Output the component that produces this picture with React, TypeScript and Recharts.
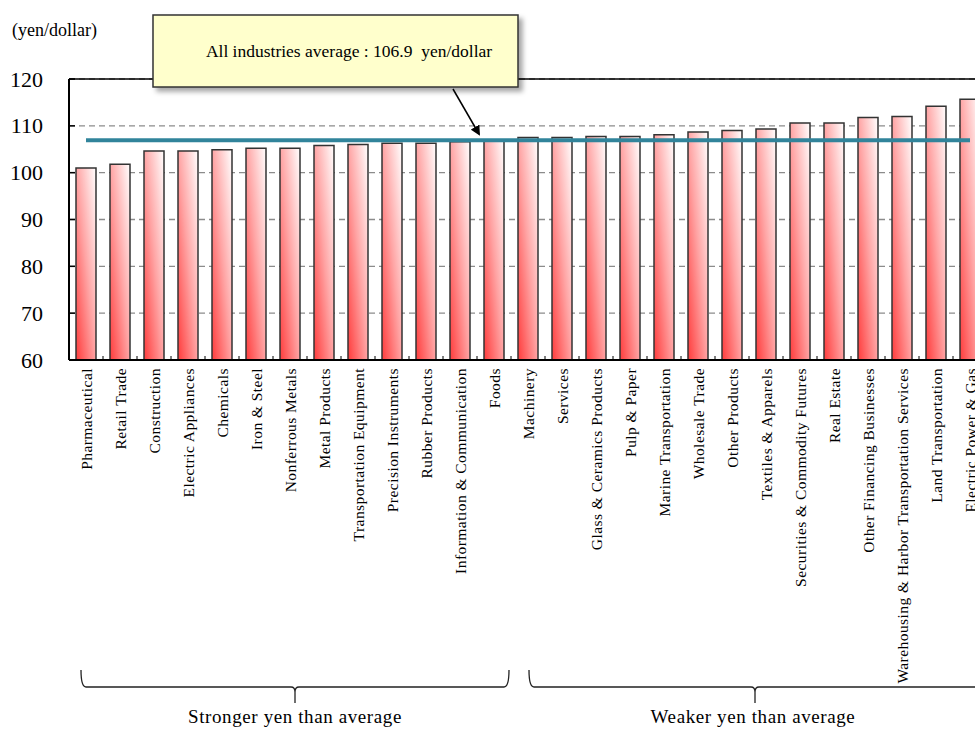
import React from 'react';
import { ComposedChart, Bar, Line, XAxis, YAxis, CartesianGrid, ReferenceLine } from 'recharts';

// industries sorted from strongest to weakest assumed rate
const industries = [
  'Pharmaceutical', 'Retail Trade', 'Construction', 'Electric Appliances', 'Chemicals',
  'Iron & Steel', 'Nonferrous Metals', 'Metal Products', 'Transportation Equipment',
  'Precision Instruments', 'Rubber Products', 'Information & Communication', 'Foods',
  'Machinery', 'Services', 'Glass & Ceramics Products', 'Pulp & Paper', 'Marine Transportation',
  'Wholesale Trade', 'Other Products', 'Textiles & Apparels', 'Securities & Commodity Futures',
  'Real Estate', 'Other Financing Businesses', 'Warehousing & Harbor Transportation Services',
  'Land Transportation', 'Electric Power & Gas',
];

const rates = [
  101.0, 101.8, 104.6, 104.6, 104.9, 105.2, 105.2, 105.8, 106.0, 106.3, 106.3, 106.6, 106.8,
  107.5, 107.5, 107.7, 107.7, 108.1, 108.7, 109.0, 109.3, 110.6, 110.6, 111.8, 112.0, 114.2, 115.7,
];

const allAverage = 106.9;
const yTicks = [60, 70, 80, 90, 100, 110, 120];

const data = industries.map((name, i) => ({ name, rate: rates[i], avg: allAverage }));

const FONT = '"Liberation Serif", "Times New Roman", serif';

const CategoryTick = (props: any) => {
  const { x, y, payload } = props;
  return (
    <g>
      <line x1={x - 17} x2={x - 17} y1={360} y2={356} stroke="#000" strokeWidth={1} />
      <text
        x={x}
        y={y}
        transform={`rotate(-90, ${x}, ${y})`}
        textAnchor="end"
        dominantBaseline="central"
        fontFamily={FONT}
        fontSize={15.5}
        letterSpacing={0.45}
        fill="#000"
      >
        {payload.value}
      </text>
    </g>
  );
};

const ValueTick = (props: any) => {
  const { x, y, payload } = props;
  return (
    <g>
      <line x1={x + 26} x2={x + 32} y1={y} y2={y} stroke="#000" strokeWidth={1.5} />
      <text x={x} y={y} textAnchor="end" dominantBaseline="central" fontFamily={FONT} fontSize={22} fill="#000">
        {payload.value}
      </text>
    </g>
  );
};

// curly bracket under a group of categories
const Brace = ({ x1, x2, mid, y }: { x1: number; x2: number; mid: number; y: number }) => (
  <path
    d={`M${x1},${y - 17} Q${x1},${y} ${x1 + 5},${y} L${mid - 4},${y} Q${mid},${y} ${mid},${y + 5} L${mid},${y + 16}
        M${mid},${y + 5} Q${mid},${y} ${mid + 4},${y} L${x2 - 5},${y} Q${x2},${y} ${x2},${y - 17}`}
    fill="none"
    stroke="#222"
    strokeWidth={1.3}
  />
);

export default function App() {
  return (
    <div style={{ position: 'absolute', left: 0, top: 0, width: 975, height: 731, overflow: 'hidden', background: '#fff' }}>
      <ComposedChart width={1000} height={731} data={data} margin={{ top: 79, right: 13, bottom: 0, left: 0 }}>
        <defs>
          <linearGradient id="barFill" x1="0" y1="1" x2="1" y2="0">
            <stop offset="0%" stopColor="#ff3c3c" />
            <stop offset="50%" stopColor="#ffa4a4" />
            <stop offset="100%" stopColor="#ffffff" />
          </linearGradient>
        </defs>
        <CartesianGrid vertical={false} stroke="#8c8c8c" strokeDasharray="6 4" strokeWidth={1.3} />
        <XAxis
          dataKey="name"
          interval={0}
          height={371}
          tickSize={0}
          tickMargin={8}
          tick={<CategoryTick />}
          axisLine={{ stroke: '#000', strokeWidth: 2 }}
        />
        <YAxis
          domain={[60, 120]}
          ticks={yTicks}
          width={69}
          tickSize={0}
          tickMargin={26}
          tick={<ValueTick />}
          axisLine={{ stroke: '#000', strokeWidth: 2 }}
        />
        <ReferenceLine y={120} stroke="#000" strokeWidth={1.5} />
        <Bar dataKey="rate" barSize={20} fill="url(#barFill)" stroke="#333" strokeWidth={1.5} isAnimationActive={false} />
        <Line
          dataKey="avg"
          type="linear"
          stroke="#31849b"
          strokeWidth={4}
          dot={false}
          isAnimationActive={false}
        />
      </ComposedChart>

      <svg width={975} height={731} style={{ position: 'absolute', left: 0, top: 0, pointerEvents: 'none' }}>
        <defs>
          <filter id="boxShadow" x="-10%" y="-20%" width="130%" height="160%">
            <feDropShadow dx={4} dy={4} stdDeviation={2.5} floodColor="#000" floodOpacity={0.35} />
          </filter>
          <marker id="arrowHead" markerWidth={10} markerHeight={10} refX={8} refY={5} orient="auto" markerUnits="userSpaceOnUse">
            <path d="M0,0 L10,5 L0,10 z" fill="#000" />
          </marker>
        </defs>

        <text x={12} y={36} fontFamily={FONT} fontSize={18} fill="#000">(yen/dollar)</text>

        <rect x={153} y={15} width={365} height={72} fill="#ffffcc" stroke="#333" strokeWidth={1.5} filter="url(#boxShadow)" />
        <text
          x={349}
          y={51}
          textAnchor="middle"
          dominantBaseline="central"
          fontFamily={FONT}
          fontSize={17.5}
          style={{ whiteSpace: 'pre' }}
          fill="#000"
        >
          {'All industries average : 106.9  yen/dollar'}
        </text>
        <line x1={453} y1={89} x2={479} y2={134} stroke="#000" strokeWidth={1.5} markerEnd="url(#arrowHead)" />

        <Brace x1={81} x2={509} mid={295} y={687} />
        <text x={295} y={723} textAnchor="middle" fontFamily={FONT} fontSize={19} letterSpacing={0.6} fill="#000">
          Stronger yen than average
        </text>
        <Brace x1={529} x2={985} mid={755} y={687} />
        <text x={753} y={723} textAnchor="middle" fontFamily={FONT} fontSize={19} letterSpacing={0.6} fill="#000">
          Weaker yen than average
        </text>
      </svg>
    </div>
  );
}
